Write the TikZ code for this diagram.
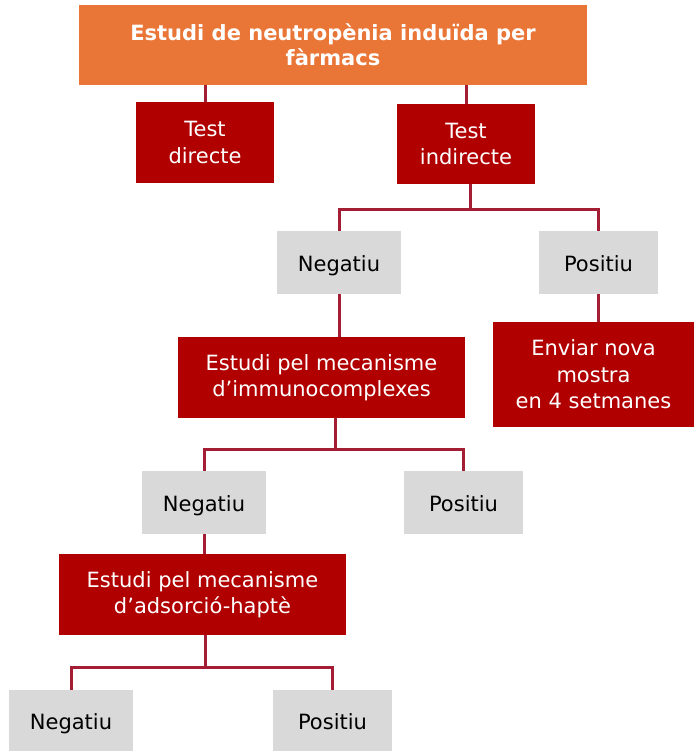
\documentclass[tikz,border=0pt]{standalone}
\usepackage{fontspec}
\setmainfont{DejaVu Sans}
\definecolor{orangebox}{HTML}{E97537}
\definecolor{redbox}{HTML}{B00000}
\definecolor{graybox}{HTML}{D9D9D9}
\definecolor{linkred}{HTML}{A31D35}
\begin{document}
\begin{tikzpicture}[x=1pt,y=-1pt,
  boxbase/.style={inner sep=0pt, align=center, font=\fontsize{21}{26.5}\selectfont},
  titlebox/.style={boxbase, fill=orangebox, text=white, font=\fontsize{21}{25.5}\selectfont\bfseries},
  rednode/.style={boxbase, fill=redbox, text=white},
  graynode/.style={boxbase, fill=graybox, text=black, text height=17pt, text depth=0pt},
  link/.style={draw=linkred, line width=3pt}]
\useasboundingbox (0,0) rectangle (694,751);
\node[titlebox, minimum width=508pt, minimum height=80pt] (title) at (333,45) {Estudi de neutropènia induïda per\\fàrmacs};
\node[rednode, minimum width=138pt, minimum height=81pt] (td) at (205,142.5) {Test\\directe};
\node[rednode, minimum width=138pt, minimum height=80pt] (ti) at (466,144) {Test\\indirecte};
\node[graynode, minimum width=124pt, minimum height=63pt] (neg1) at (339,262.5) {Negatiu};
\node[graynode, minimum width=119pt, minimum height=63pt] (pos1) at (598.5,262.5) {Positiu};
\node[rednode, minimum width=287pt, minimum height=81pt] (imm) at (321.5,377.5) {Estudi pel mecanisme\\d’immunocomplexes};
\node[rednode, minimum width=201pt, minimum height=105pt] (env) at (593.5,374.5) {Enviar nova\\mostra\\en 4 setmanes};
\node[graynode, minimum width=124pt, minimum height=63pt] (neg2) at (204,502.5) {Negatiu};
\node[graynode, minimum width=119pt, minimum height=63pt] (pos2) at (463.5,502.5) {Positiu};
\node[rednode, minimum width=287pt, minimum height=81pt] (ads) at (202.5,594.5) {Estudi pel mecanisme\\d’adsorció-haptè};
\node[graynode, minimum width=124pt, minimum height=61pt] (neg3) at (71,720.5) {Negatiu};
\node[graynode, minimum width=119pt, minimum height=61pt] (pos3) at (332.5,720.5) {Positiu};
\coordinate (b1) at (470,210);
\coordinate (b2) at (335,449);
\coordinate (b3) at (205,667);
\draw[link] (td.north) -- (td.north |- title.south);
\draw[link] (ti.north) -- (ti.north |- title.south);
\draw[link] (ti.south -| b1) -- (b1);
\draw[link] (neg1.north) |- (b1) -| (pos1.north);
\draw[link] (neg1.south) -- (neg1.south |- imm.north);
\draw[link] (pos1.south) -- (pos1.south |- env.north);
\draw[link] (imm.south -| b2) -- (b2);
\draw[link] (neg2.north) |- (b2) -| (pos2.north);
\draw[link] (neg2.south) -- (neg2.south |- ads.north);
\draw[link] (ads.south -| b3) -- (b3);
\draw[link] (neg3.north) |- (b3) -| (pos3.north);
\end{tikzpicture}
\end{document}
